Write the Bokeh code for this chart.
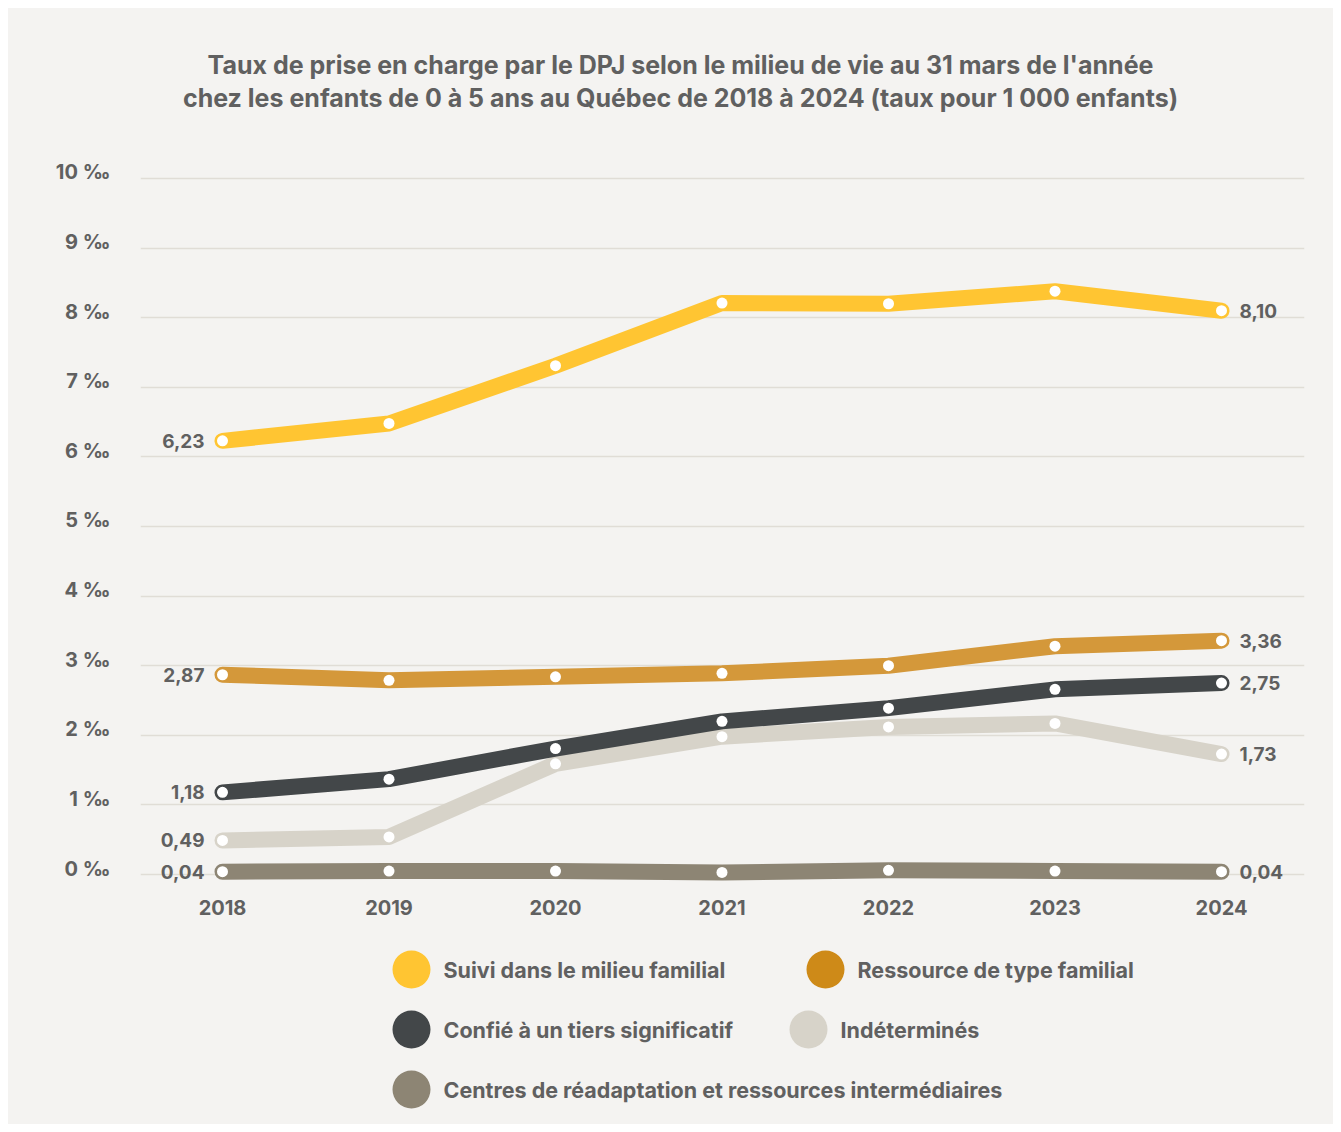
from bokeh.plotting import figure
from bokeh.layouts import column
from bokeh.models import Range1d, FixedTicker, CustomJSTickFormatter
from bokeh.core.properties import value
from bokeh.embed import file_html
from bokeh.resources import INLINE

# ---------------- data ----------------
years = [2018, 2019, 2020, 2021, 2022, 2023, 2024]
suivi = [6.23, 6.48, 7.31, 8.21, 8.20, 8.38, 8.10]
ressource = [2.87, 2.79, 2.84, 2.89, 3.00, 3.28, 3.36]
confie = [1.18, 1.37, 1.81, 2.20, 2.39, 2.66, 2.75]
indetermines = [0.49, 0.54, 1.59, 1.98, 2.12, 2.17, 1.73]
centres = [0.04, 0.05, 0.05, 0.03, 0.06, 0.05, 0.04]

series_names = [
    "Suivi dans le milieu familial",
    "Ressource de type familial",
    "Confié à un tiers significatif",
    "Indéterminés",
    "Centres de réadaptation et ressources intermédiaires",
]
y_ticks = [0, 1, 2, 3, 4, 5, 6, 7, 8, 9, 10]
y_tick_labels = [f"{t} ‰" for t in y_ticks]
title_lines = [
    "Taux de prise en charge par le DPJ selon le milieu de vie au 31 mars de l'année",
    "chez les enfants de 0 à 5 ans au Québec de 2018 à 2024 (taux pour 1 000 enfants)",
]

# ---------------- styles ----------------
BG = "#f4f3f1"
TXT = "#606060"
FONT = "Inter"
line_colors = ["#ffc532", "#d4983a", "#434749", "#d7d3c9", "#8d8574"]
legend_colors = ["#ffc532", "#ce8a18", "#434749", "#d7d3c9", "#8d8574"]
W = 1325
BL, BR = 132, 29   # frame borders shared by all stacked figures
LABEL_LIFT = 0.086  # tick labels sit slightly above their gridline


def blank_fig(h):
    f = figure(width=W, height=h, output_backend="svg", toolbar_location=None,
               x_range=Range1d(BL, W - BR), y_range=Range1d(h, 0),
               min_border_left=BL, min_border_right=BR,
               min_border_top=0, min_border_bottom=0)
    f.axis.visible = False
    f.grid.visible = False
    f.outline_line_color = None
    f.background_fill_color = BG
    f.border_fill_color = BG
    return f


# ---------------- title ----------------
TH = 132
tf = blank_fig(TH)
tf.text(x=[672, 672], y=[56, 89], text=title_lines,
        text_font=value(FONT), text_font_style="bold", text_font_size="25px",
        text_color=TXT, text_align="center", text_baseline="middle")

# ---------------- main plot ----------------
MH = 795
p = figure(width=W, height=MH, output_backend="svg", toolbar_location=None,
           x_range=Range1d(2017.5075, 2024.4985), y_range=Range1d(-0.158, 10.1),
           min_border_left=BL, min_border_right=BR, min_border_top=31,
           min_border_bottom=50)
p.background_fill_color = BG
p.border_fill_color = BG
p.outline_line_color = None
p.xgrid.visible = False
p.ygrid.ticker = FixedTicker(ticks=y_ticks)
p.ygrid.grid_line_color = "#e0ddd6"
p.ygrid.grid_line_width = 1.5
p.yaxis.ticker = FixedTicker(ticks=[t + LABEL_LIFT for t in y_ticks])
p.yaxis.formatter = CustomJSTickFormatter(args=dict(labels=y_tick_labels),
                                          code="return labels[Math.round(tick)];")
p.xaxis.ticker = FixedTicker(ticks=years)
for ax in (p.xaxis[0], p.yaxis[0]):
    ax.axis_line_color = None
    ax.major_tick_line_color = None
    ax.minor_tick_line_color = None
    ax.major_tick_out = 0
    ax.major_tick_in = 0
    ax.major_label_text_font = FONT
    ax.major_label_text_font_style = "bold"
    ax.major_label_text_color = TXT
    ax.major_label_text_font_size = "20px"
p.yaxis.major_label_standoff = 30
p.xaxis.major_label_standoff = 14

all_series = [suivi, ressource, indetermines, confie, centres]
all_colors = [line_colors[0], line_colors[1], line_colors[3], line_colors[2], line_colors[4]]
for s, c in zip(all_series, all_colors):
    p.line(years, s, line_color=c, line_width=16, line_cap="round", line_join="round")
for s in all_series:
    p.scatter(years, s, size=11, fill_color="white", line_color=None)


def fmt(v):
    return f"{v:.2f}".replace(".", ",")


ordered = [suivi, ressource, confie, indetermines, centres]
p.text(x=[years[0]] * 5, y=[s[0] for s in ordered], text=[fmt(s[0]) for s in ordered],
       x_offset=-18, text_font=value(FONT), text_font_style="bold", text_font_size="19px",
       text_color=TXT, text_align="right", text_baseline="middle")
p.text(x=[years[-1]] * 5, y=[s[-1] for s in ordered], text=[fmt(s[-1]) for s in ordered],
       x_offset=18, text_font=value(FONT), text_font_style="bold", text_font_size="19px",
       text_color=TXT, text_align="left", text_baseline="middle")

# ---------------- legend ----------------
LH = 189
lf = blank_fig(LH)
leg_cx = [403, 817, 403, 800, 403]
leg_cy = [34, 34, 94, 94, 154]
lf.scatter(leg_cx, leg_cy, size=38, fill_color=legend_colors, line_color=None)
lf.text(x=[c + 32 for c in leg_cx], y=leg_cy, text=series_names,
        text_font=value(FONT), text_font_style="bold", text_font_size="21.5px",
        text_color=TXT, text_align="left", text_baseline="middle")

layout = column(tf, p, lf, spacing=0, margin=(8, 0, 0, 8),
                styles={"background-color": BG})
open("out.html", "w").write(file_html(layout, INLINE))
